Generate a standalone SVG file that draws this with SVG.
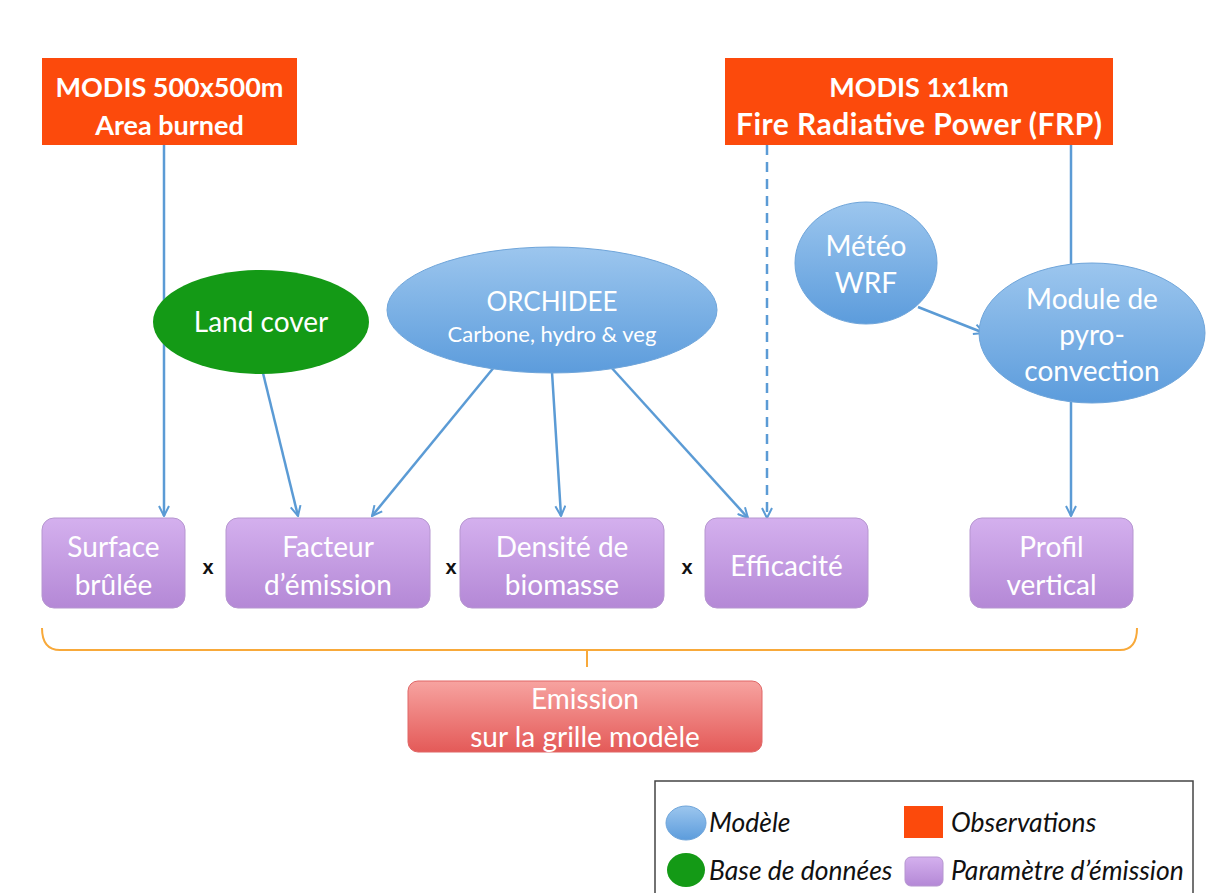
<svg xmlns="http://www.w3.org/2000/svg" width="1209" height="893" viewBox="0 0 1209 893">
<defs>
<linearGradient id="gBlue" x1="0" y1="0" x2="0" y2="1"><stop offset="0" stop-color="#9CC6EE"/><stop offset="1" stop-color="#5C9CDC"/></linearGradient>
<linearGradient id="gPurple" x1="0" y1="0" x2="0" y2="1"><stop offset="0" stop-color="#D4B0EE"/><stop offset="1" stop-color="#B488D6"/></linearGradient>
<linearGradient id="gRed" x1="0" y1="0" x2="0" y2="1"><stop offset="0" stop-color="#F7A3A0"/><stop offset="1" stop-color="#E45A58"/></linearGradient>
<marker id="arr" viewBox="0 0 12 12" refX="11" refY="6" markerWidth="12" markerHeight="12" markerUnits="userSpaceOnUse" orient="auto"><path d="M1,1 L11,6 L1,11" fill="none" stroke="#5B9BD5" stroke-width="2"/></marker>
<style>
.obs{fill:#FC4A0C}
.obsT{fill:#fff;font-family:Lato,"Liberation Sans",sans-serif;font-weight:bold;font-size:27px;text-anchor:middle}
.mod{fill:url(#gBlue);stroke:#6FA5DA;stroke-width:1}
.par{fill:url(#gPurple);stroke:#B696D0;stroke-width:1}
.wt{fill:#fff;font-family:Lato,"Liberation Sans",sans-serif;font-size:28px;text-anchor:middle}
.mul{fill:#111;font-family:"Liberation Sans",sans-serif;font-weight:bold;font-size:20px;text-anchor:middle}
.con{stroke:#5B9BD5;stroke-width:2.5;fill:none;marker-end:url(#arr)}
.leg{fill:#111;font-family:Lato,"Liberation Sans",sans-serif;font-style:italic;font-size:26.5px}
</style>
</defs>
<rect width="1209" height="893" fill="#fff"/>

<g id="connectors">
<line class="con" x1="164" y1="145" x2="164" y2="516"/>
<line class="con" x1="262" y1="369" x2="298" y2="516"/>
<line class="con" x1="495" y1="366" x2="372" y2="516"/>
<line class="con" x1="552" y1="372" x2="561" y2="516"/>
<line class="con" x1="610" y1="366" x2="748" y2="518"/>
<line class="con" x1="767" y1="145" x2="767" y2="518" stroke-dasharray="10,7"/>
<line x1="1071" y1="145" x2="1071" y2="264" stroke="#5B9BD5" stroke-width="2.5"/>
<line class="con" x1="918" y1="307" x2="984" y2="333"/>
<line class="con" x1="1071" y1="402" x2="1071" y2="516"/>
<path d="M42,628 Q42,650 60,650 L1120,650 Q1137,650 1137,628" fill="none" stroke="#F8A93A" stroke-width="2"/>
<line x1="587" y1="650" x2="587" y2="667" stroke="#F8A93A" stroke-width="2"/>
</g>

<g id="modis500">
<rect class="obs" x="42" y="58" width="255" height="87"/>
<text class="obsT" x="169.5" y="97">MODIS 500x500m</text>
<text class="obsT" x="169.5" y="135">Area burned</text>
</g>
<g id="modis1km">
<rect class="obs" x="725" y="58" width="388" height="87"/>
<text class="obsT" x="919" y="97">MODIS 1x1km</text>
<text class="obsT" x="919" y="135" style="font-size:30px" textLength="366" lengthAdjust="spacing">Fire Radiative Power (FRP)</text>
</g>

<g id="landcover">
<ellipse cx="261" cy="322" rx="108" ry="52" fill="#149A16"/>
<text class="wt" x="261" y="332">Land cover</text>
</g>
<g id="orchidee">
<ellipse class="mod" cx="552" cy="310" rx="165" ry="63"/>
<text class="wt" x="552" y="311" style="font-size:26px">ORCHIDEE</text>
<text class="wt" x="552" y="342" style="font-size:22px">Carbone, hydro &amp; veg</text>
</g>
<g id="meteo">
<ellipse class="mod" cx="866" cy="263" rx="71" ry="61"/>
<text class="wt" x="866" y="256">Météo</text>
<text class="wt" x="866" y="293">WRF</text>
</g>
<g id="pyro">
<ellipse class="mod" cx="1092" cy="333" rx="113" ry="70"/>
<text class="wt" x="1092" y="309">Module de</text>
<text class="wt" x="1092" y="345">pyro-</text>
<text class="wt" x="1092" y="381">convection</text>
</g>

<g id="surface">
<rect class="par" x="42" y="518" width="143" height="90" rx="12"/>
<text class="wt" x="113.5" y="557">Surface</text>
<text class="wt" x="113.5" y="595">brûlée</text>
</g>
<g id="facteur">
<rect class="par" x="226" y="518" width="204" height="90" rx="12"/>
<text class="wt" x="328" y="557">Facteur</text>
<text class="wt" x="328" y="595">d’émission</text>
</g>
<g id="densite">
<rect class="par" x="460" y="518" width="204" height="90" rx="12"/>
<text class="wt" x="562" y="557">Densité de</text>
<text class="wt" x="562" y="595">biomasse</text>
</g>
<g id="efficacite">
<rect class="par" x="705" y="518" width="163" height="90" rx="12"/>
<text class="wt" x="786.5" y="576">Efficacité</text>
</g>
<g id="profil">
<rect class="par" x="970" y="518" width="163" height="90" rx="12"/>
<text class="wt" x="1051.5" y="557">Profil</text>
<text class="wt" x="1051.5" y="595">vertical</text>
</g>
<g id="multipliers">
<text class="mul" x="208" y="574">x</text>
<text class="mul" x="451" y="574">x</text>
<text class="mul" x="687" y="574">x</text>
</g>

<g id="emission">
<rect x="408" y="681" width="354" height="71" rx="10" fill="url(#gRed)" stroke="#E06666" stroke-width="1"/>
<text class="wt" x="585" y="709">Emission</text>
<text class="wt" x="585" y="747">sur la grille modèle</text>
</g>

<g id="legend">
<rect x="655" y="781" width="538" height="115" fill="#fff" stroke="#444" stroke-width="1.5"/>
<ellipse class="mod" cx="686" cy="823" rx="20" ry="17"/>
<text class="leg" x="709" y="832">Modèle</text>
<rect class="obs" x="904" y="806" width="39" height="32"/>
<text class="leg" x="951" y="832">Observations</text>
<ellipse cx="686" cy="870" rx="19" ry="17" fill="#149A16"/>
<text class="leg" x="709" y="880">Base de données</text>
<rect class="par" x="905" y="857" width="38" height="29" rx="6"/>
<text class="leg" x="951" y="880">Paramètre d’émission</text>
</g>
</svg>
